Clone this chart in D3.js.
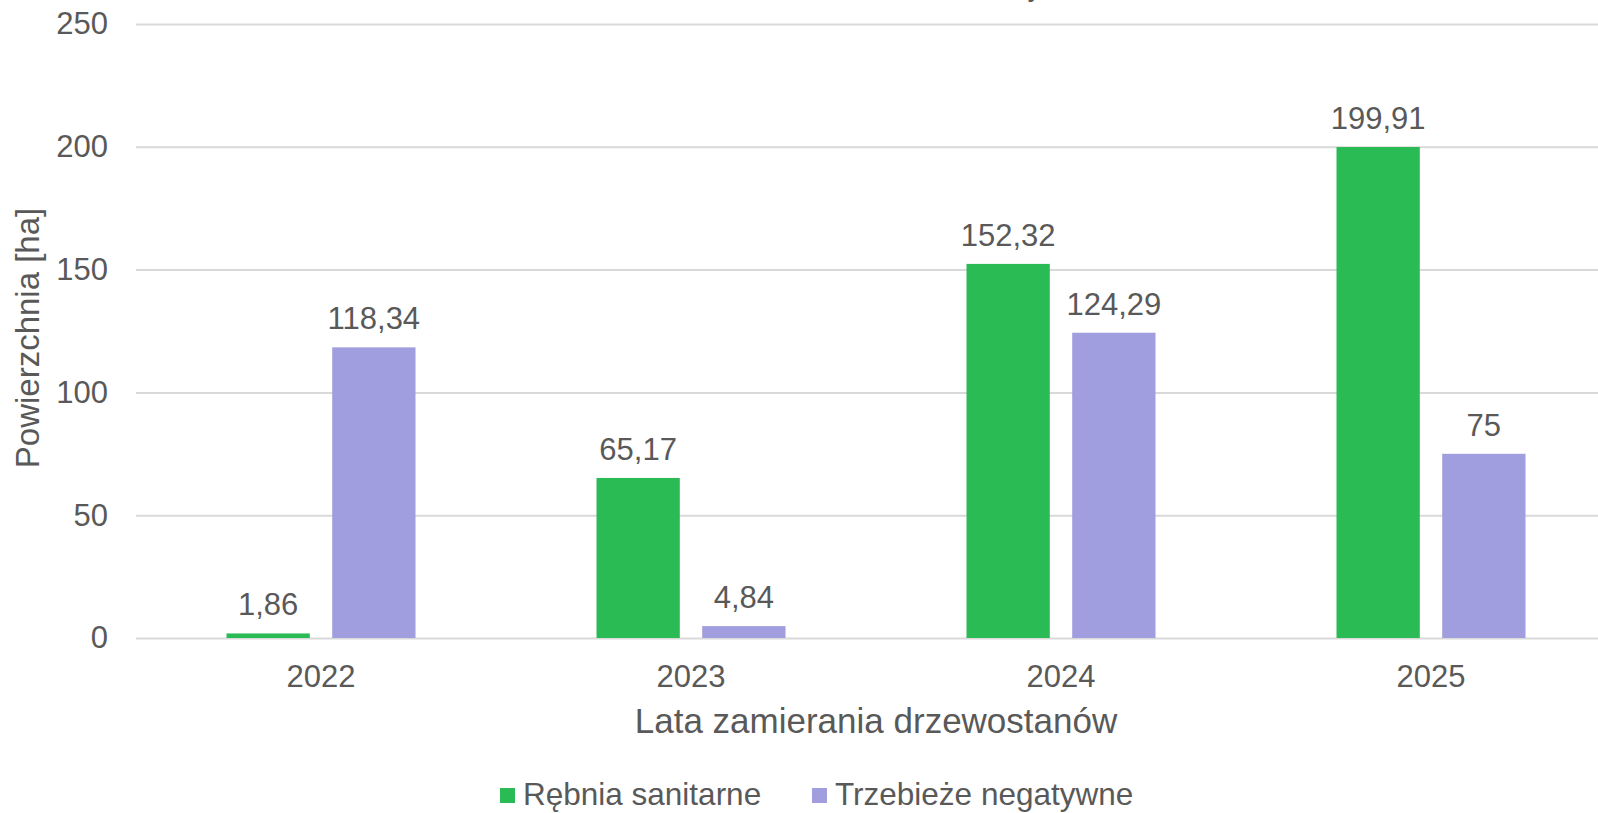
<!DOCTYPE html>
<html>
<head>
<meta charset="utf-8">
<script src="https://cdn.jsdelivr.net/npm/d3@7"></script>
<style>
  html, body { margin: 0; padding: 0; background: #fff; overflow: hidden; }
  svg { display: block; font-family: "Liberation Sans", Arial, sans-serif; }
</style>
</head>
<body>
<div class="chart"></div>
<script>
const width = 1598, height = 813;

// data
const years = ["2022", "2023", "2024", "2025"];
const series = ["Rębnia sanitarne", "Trzebieże negatywne"];
const rebnia = [1.86, 65.17, 152.32, 199.91];
const trzebieze = [118.34, 4.84, 124.29, 75];
const valueLabels = [
    ["1,86", "65,17", "152,32", "199,91"],
    ["118,34", "4,84", "124,29", "75"]
];
const yTicks = [0, 50, 100, 150, 200, 250];
const colors = ["#2bbb55", "#a09ede"];
const textColor = "#595959";

const svg = d3.select(".chart")
    .append("svg")
    .attr("width", width)
    .attr("height", height)
    .attr("viewBox", [0, 0, width, height]);

// plot area runs a bit past the right edge (clipped in the original)
const x = d3.scaleBand()
    .domain(years)
    .range([136, 1616]);

const groupWidth = 189;
const xs = d3.scaleBand()
    .domain(series)
    .range([0, groupWidth])
    .paddingInner(0.212);

const y = d3.scaleLinear()
    .domain([0, 250])
    .range([638, 24]);

// clipped title remnant at the very top
svg.append("text")
    .attr("x", 1035)
    .attr("y", -4)
    .attr("text-anchor", "middle")
    .attr("font-size", 30)
    .attr("fill", textColor)
    .text("y");

// y axis + gridlines
const yAxis = svg.append("g")
    .attr("transform", `translate(${x.range()[0]},0)`)
    .call(d3.axisLeft(y)
        .tickValues(yTicks)
        .tickSize(-(width - x.range()[0]))
        .tickPadding(28));
yAxis.select(".domain").remove();
yAxis.selectAll(".tick line")
    .attr("stroke", "#d9d9d9")
    .attr("stroke-width", 2);
yAxis.selectAll(".tick text")
    .attr("font-size", 31)
    .attr("font-family", "Liberation Sans, Arial, sans-serif")
    .attr("fill", textColor);

// x axis
const xAxis = svg.append("g")
    .attr("transform", `translate(0,${y(0)})`)
    .call(d3.axisBottom(x).tickSize(0).tickPadding(27));
xAxis.select(".domain").remove();
xAxis.selectAll(".tick text")
    .attr("font-size", 31)
    .attr("font-family", "Liberation Sans, Arial, sans-serif")
    .attr("fill", textColor);

// bars
const rows = [rebnia, trzebieze];
const barData = [];
rows.forEach((vals, si) => {
    vals.forEach((v, i) => {
        barData.push({year: years[i], s: series[si], si: si, value: v, label: valueLabels[si][i]});
    });
});

const gx = d => x(d.year) + x.bandwidth() / 2 - groupWidth / 2 + xs(d.s);

svg.append("g")
    .selectAll("rect")
    .data(barData)
    .join("rect")
    .attr("x", gx)
    .attr("y", d => y(d.value))
    .attr("width", xs.bandwidth())
    .attr("height", d => y(0) - y(d.value))
    .attr("fill", d => colors[d.si]);

svg.append("g")
    .selectAll("text")
    .data(barData)
    .join("text")
    .attr("x", d => gx(d) + xs.bandwidth() / 2)
    .attr("y", d => y(d.value) - 18)
    .attr("text-anchor", "middle")
    .attr("font-size", 31)
    .attr("fill", textColor)
    .text(d => d.label);

// axis titles
svg.append("text")
    .attr("x", (x.range()[0] + x.range()[1]) / 2)
    .attr("y", 733)
    .attr("text-anchor", "middle")
    .attr("font-size", 35)
    .attr("fill", textColor)
    .text("Lata zamierania drzewostanów");

svg.append("text")
    .attr("transform", "translate(39,338) rotate(-90)")
    .attr("text-anchor", "middle")
    .attr("font-size", 33)
    .attr("fill", textColor)
    .text("Powierzchnia [ha]");

// legend
const legendX = [500, 812];
const legend = svg.append("g")
    .selectAll("g")
    .data(series)
    .join("g")
    .attr("transform", (d, i) => `translate(${legendX[i]},788)`);

legend.append("rect")
    .attr("width", 15)
    .attr("height", 15)
    .attr("fill", (d, i) => colors[i]);

legend.append("text")
    .attr("x", 23)
    .attr("y", 17)
    .attr("font-size", 31.5)
    .attr("fill", textColor)
    .text(d => d);
</script>
</body>
</html>
